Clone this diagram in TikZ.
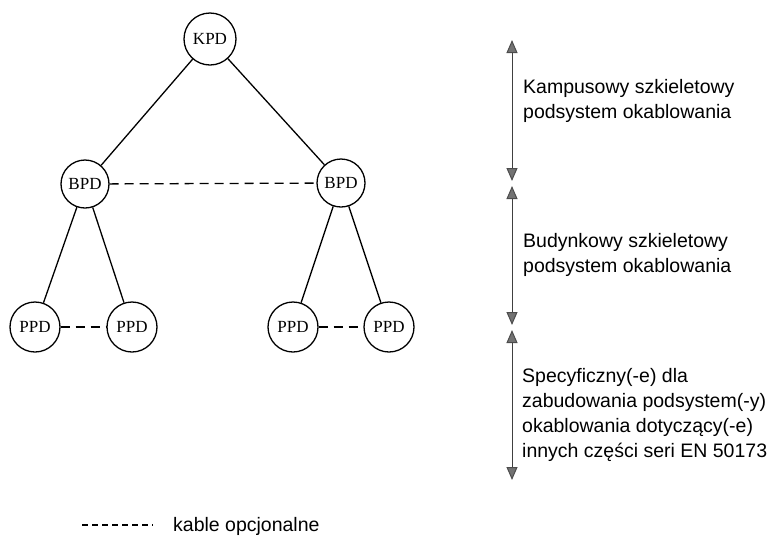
\documentclass[tikz,border=0pt]{standalone}
\usepackage{fontspec}
\setmainfont{Liberation Sans}
\newfontfamily\pdfont{Liberation Serif}
\usetikzlibrary{arrows.meta}

\tikzset{
  pd/.style={draw,circle,line width=1.3pt,minimum size=50pt,inner sep=0pt,font=\pdfont\fontsize{17}{17}\selectfont},
  cable/.style={line width=1.3pt},
  optcable/.style={line width=1.3pt,dash pattern=on 9pt off 6pt},
  span/.style={line width=1pt,draw=black!75,
    {Triangle[width=11pt,length=13pt,color=black!70,fill=black!55]}-{Triangle[width=11pt,length=13pt,color=black!70,fill=black!55]}},
  desc/.style={anchor=north west,inner sep=0pt,align=left,font=\fontsize{19.5}{25}\selectfont}
}

\begin{document}
\begin{tikzpicture}[x=1pt,y=-1pt]
  \useasboundingbox (0,0) rectangle (774,542);

  % distribution points
  \node[pd,minimum size=52pt] (kpd) at (210,39) {KPD};
  \node[pd,minimum size=48pt] (bpdl) at (85,184) {BPD};
  \node[pd,minimum size=48pt] (bpdr) at (341,183) {BPD};
  \node[pd] (ppda) at (35,327) {PPD};
  \node[pd] (ppdb) at (132,327) {PPD};
  \node[pd] (ppdc) at (293,327) {PPD};
  \node[pd] (ppdd) at (389,327) {PPD};

  % cables
  \draw[cable] (kpd) -- (bpdl);
  \draw[cable] (kpd) -- (bpdr);
  \foreach \a/\b in {bpdl/ppda,bpdl/ppdb,bpdr/ppdc,bpdr/ppdd}
    \draw[cable] (\a) -- (\b);
  \draw[optcable] (bpdl) -- (bpdr);
  \draw[optcable] (ppda) -- (ppdb);
  \draw[optcable] (ppdc) -- (ppdd);

  % subsystem ranges
  \coordinate (k1) at (512,40);
  \coordinate (k2) at (512,181);
  \coordinate (b1) at (512,186);
  \coordinate (b2) at (512,325);
  \coordinate (s1) at (512,330);
  \coordinate (s2) at (512,480);
  \draw[span] (k2) -- (k1);
  \draw[span] (b2) -- (b1);
  \draw[span] (s2) -- (s1);

  \node[desc] (kampus) at (523,79) {Kampusowy szkieletowy\\podsystem okablowania};
  \node[desc] (budynek) at (523,233) {Budynkowy szkieletowy\\podsystem okablowania};
  \node[desc] (specyf) at (522,368) {Specyficzny(-e) dla\\zabudowania podsystem(-y)\\okablowania dotyczący(-e)\\innych części seri EN 50173};

  % legend
  \coordinate (leg1) at (82,525);
  \coordinate (leg2) at (153,525);
  \draw[line width=1.1pt,dash pattern=on 6pt off 4pt] (leg1) -- (leg2);
  \node[anchor=base west,inner sep=0pt,font=\fontsize{19.5}{25}\selectfont] (legtxt) at (173,531) {kable opcjonalne};
\end{tikzpicture}
\end{document}
